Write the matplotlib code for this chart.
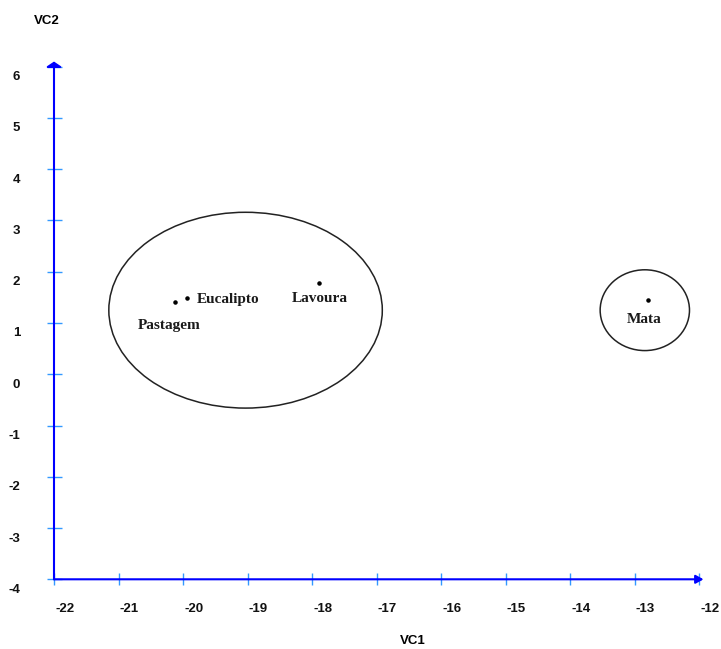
import matplotlib.pyplot as plt
from matplotlib.patches import Ellipse
from matplotlib.transforms import ScaledTranslation

# Data
sites = ["Pastagem", "Eucalipto", "Lavoura", "Mata"]
vc1 = [-20.12, -19.94, -17.89, -12.79]
vc2 = [1.40, 1.48, 1.78, 1.44]

# label offsets in pixels (dx, dy) relative to each point
label_dx = [-37, 10, -27, -21]
label_dy = [-23, -1, -15, -19]

# groups: center x, center y, width, height
grp_x = [-19.03, -12.84]
grp_y = [1.25, 1.25]
grp_w = [4.24, 1.385]
grp_h = [3.82, 1.576]

xticks = list(range(-22, -11))
yticks = list(range(-4, 7))

axis_blue = "#0000ff"
tick_blue = "#3399ff"

W, H, dpi = 721, 649, 100
fig = plt.figure(figsize=(W / dpi, H / dpi), dpi=dpi)
# axes mapped so -22..-12 -> px 54..699 and -4..6 -> px 579.3..66.7
ax = fig.add_axes([54 / W, (H - 579.3) / H, 645 / W, 512.6 / H])
ax.set_xlim(-22, -12)
ax.set_ylim(-4, 6)
for s in ax.spines.values():
    s.set_visible(False)

# axis lines with arrows
ax.annotate("", xy=(-11.93, -4), xytext=(-22, -4),
            arrowprops=dict(arrowstyle="-|>,head_length=0.45,head_width=0.25",
                            color=axis_blue, lw=1.5, shrinkA=0, shrinkB=0),
            annotation_clip=False)
ax.annotate("", xy=(-22, 6.1), xytext=(-22, -4),
            arrowprops=dict(arrowstyle="-|>,head_length=0.3,head_width=0.45",
                            color=axis_blue, lw=1.5, shrinkA=0, shrinkB=0),
            annotation_clip=False)

ax.set_xticks(xticks)
ax.set_yticks(yticks)
ax.set_xticklabels([str(t) for t in xticks])
ax.set_yticklabels([str(t) for t in yticks])
ax.tick_params(axis="x", direction="inout", length=8.6, width=1.0, color=tick_blue, pad=12.6)
ax.tick_params(axis="y", direction="inout", length=10.8, width=1.0, color=tick_blue, pad=19)
for lab in ax.get_xticklabels() + ax.get_yticklabels():
    lab.set_fontfamily("Liberation Sans")
    lab.set_fontweight("bold")
    lab.set_fontsize(9.5)
    lab.set_color("#111111")
for lab in ax.get_xticklabels():
    lab.set_transform(lab.get_transform() + ScaledTranslation(11 / dpi, 0, fig.dpi_scale_trans))
for lab in ax.get_yticklabels():
    lab.set_transform(lab.get_transform() + ScaledTranslation(0, -9 / dpi, fig.dpi_scale_trans))

# ellipses around groups
for cx, cy, w, h in zip(grp_x, grp_y, grp_w, grp_h):
    ax.add_patch(Ellipse((cx, cy), w, h, fill=False, edgecolor="#222222", lw=1.1))

# points and labels
ax.scatter(vc1, vc2, s=5, color="black", zorder=3)
for x, y, name, dx, dy in zip(vc1, vc2, sites, label_dx, label_dy):
    ax.annotate(name, (x, y), xytext=(dx, dy), textcoords="offset pixels",
                ha="left", va="center", fontfamily="Liberation Serif",
                fontweight="bold", fontsize=11, color="#1a1a1a")

fig.text(46.5 / W, 1 - 21 / H, "VC2", ha="center", va="center",
         fontfamily="Liberation Sans", fontweight="bold", fontsize=9.5)
fig.text(413 / W, 1 - 641 / H, "VC1", ha="center", va="center",
         fontfamily="Liberation Sans", fontweight="bold", fontsize=9.5)

fig.savefig("out.png", dpi=dpi)
